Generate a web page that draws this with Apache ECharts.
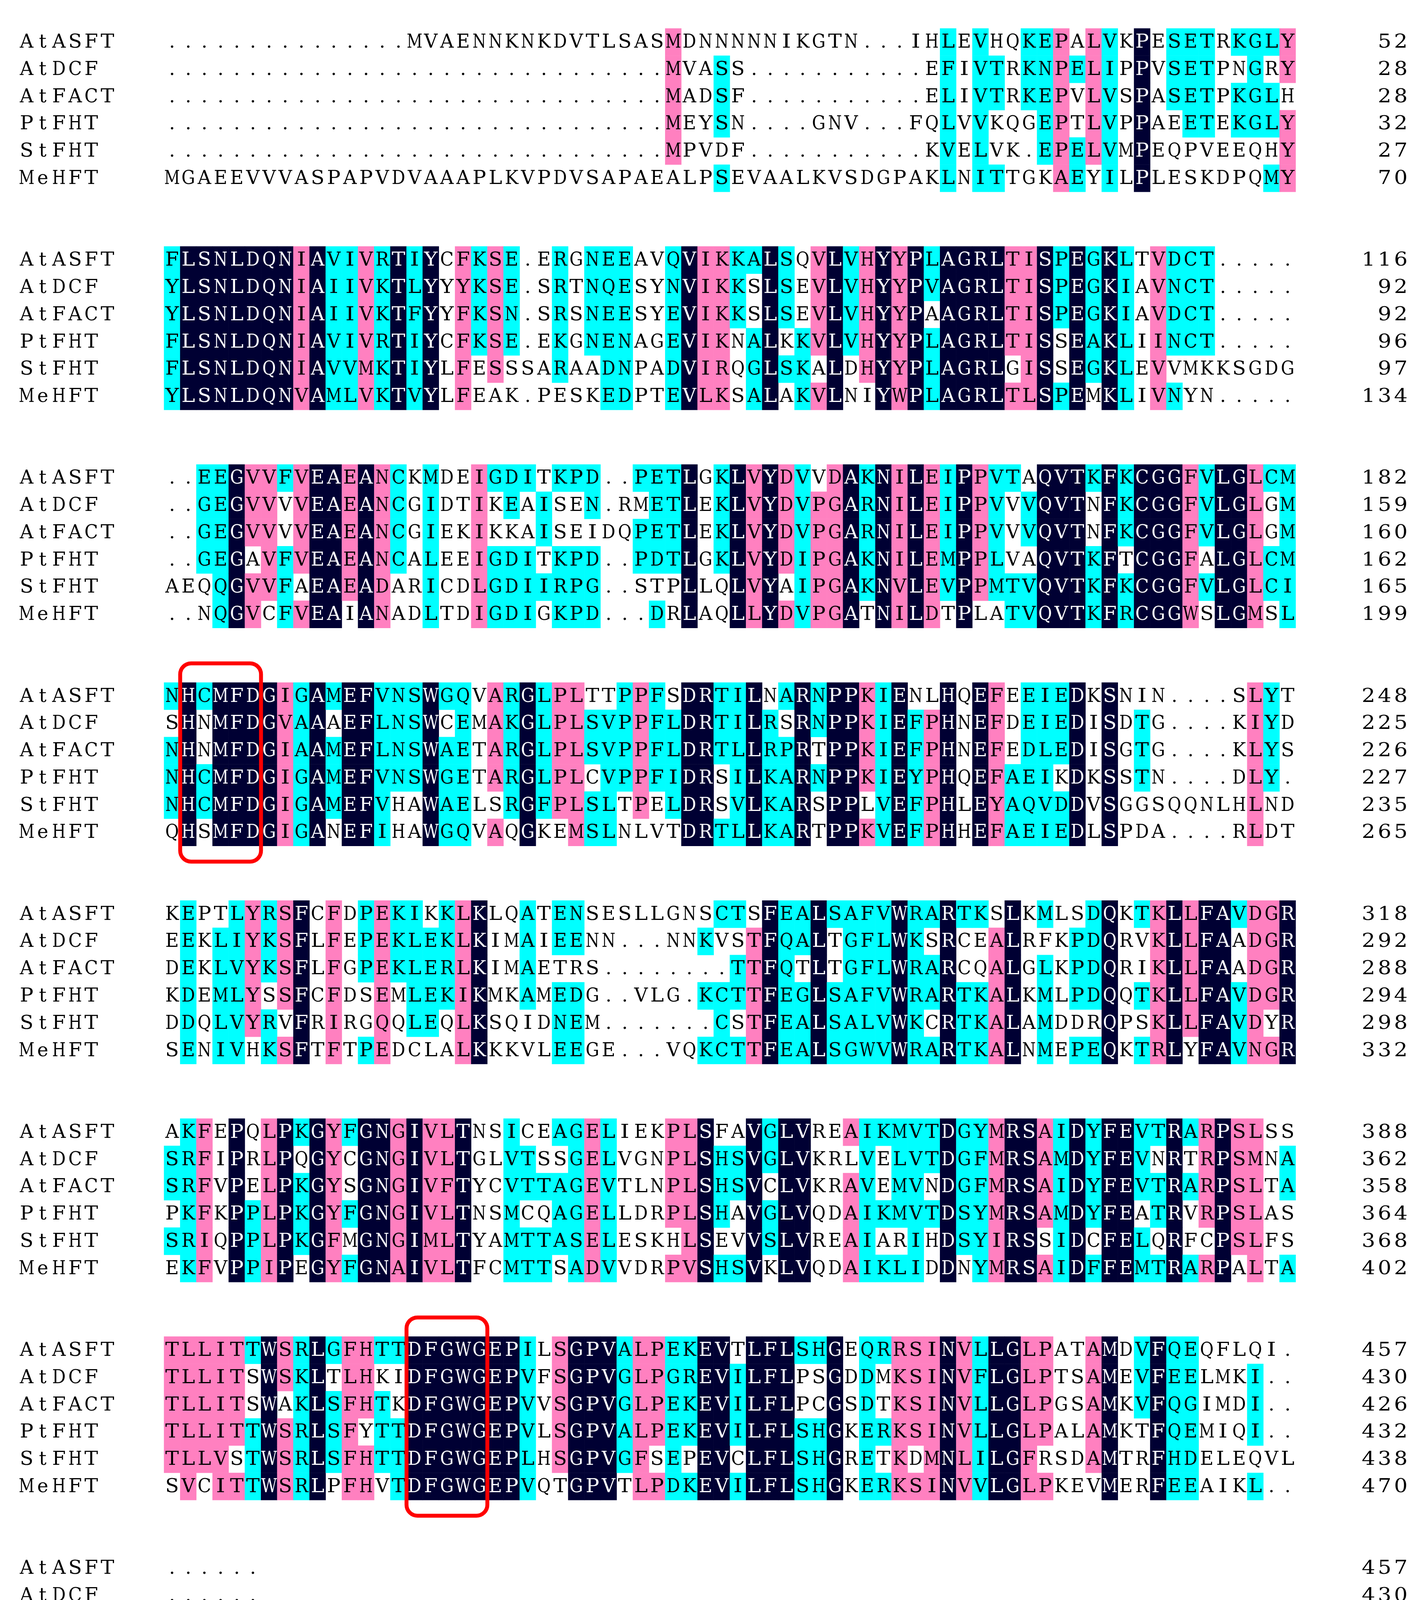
<!DOCTYPE html>
<html>
<head>
<meta charset="utf-8">
<title>Alignment</title>
<script src="https://cdn.jsdelivr.net/npm/echarts@6/dist/echarts.min.js"></script>
<style>
html, body { margin: 0; padding: 0; background: #fff; }
#main { width: 3644px; height: 4413px; }
</style>
</head>
<body>
<div id="main"></div>
<script>
// sequence names, top to bottom
const names = ["AtASFT", "AtDCF", "AtFACT", "PtFHT", "StFHT", "MeHFT"];

// one string per block of 70 columns, "." is a gap
const AtASFT = [
  ".".repeat(15) + "MVAENNKNKDVTLSASMDNNNNNIKGTN...IHLEVHQKEPALVKPESETRKGLY",
  "FLSNLDQNIAVIVRTIYCFKSE.ERGNEEAVQVIKKALSQVLVHYYPLAGRLTISPEGKLTVDCT.....",
  "..EEGVVFVEAEANCKMDEIGDITKPD..PETLGKLVYDVVDAKNILEIPPVTAQVTKFKCGGFVLGLCM",
  "NHCMFDGIGAMEFVNSWGQVARGLPLTTPPFSDRTILNARNPPKIENLHQEFEEIEDKSNIN....SLYT",
  "KEPTLYRSFCFDPEKIKKLKLQATENSESLLGNSCTSFEALSAFVWRARTKSLKMLSDQKTKLLFAVDGR",
  "AKFEPQLPKGYFGNGIVLTNSICEAGELIEKPLSFAVGLVREAIKMVTDGYMRSAIDYFEVTRARPSLSS",
  "TLLITTWSRLGFHTTDFGWGEPILSGPVALPEKEVTLFLSHGEQRRSINVLLGLPATAMDVFQEQFLQI.",
  "......"
];
const AtDCF = [
  ".".repeat(31) + "MVASS" + ".".repeat(11) + "EFIVTRKNPELIPPVSETPNGRY",
  "YLSNLDQNIAIIVKTLYYYKSE.SRTNQESYNVIKKSLSEVLVHYYPVAGRLTISPEGKIAVNCT.....",
  "..GEGVVVVEAEANCGIDTIKEAISEN.RMETLEKLVYDVPGARNILEIPPVVVQVTNFKCGGFVLGLGM",
  "SHNMFDGVAAAEFLNSWCEMAKGLPLSVPPFLDRTILRSRNPPKIEFPHNEFDEIEDISDTG....KIYD",
  "EEKLIYKSFLFEPEKLEKLKIMAIEENN...NNKVSTFQALTGFLWKSRCEALRFKPDQRVKLLFAADGR",
  "SRFIPRLPQGYCGNGIVLTGLVTSSGELVGNPLSHSVGLVKRLVELVTDGFMRSAMDYFEVNRTRPSMNA",
  "TLLITSWSKLTLHKIDFGWGEPVFSGPVGLPGREVILFLPSGDDMKSINVFLGLPTSAMEVFEELMKI..",
  "......"
];
const AtFACT = [
  ".".repeat(31) + "MADSF" + ".".repeat(11) + "ELIVTRKEPVLVSPASETPKGLH",
  "YLSNLDQNIAIIVKTFYYFKSN.SRSNEESYEVIKKSLSEVLVHYYPAAGRLTISPEGKIAVDCT.....",
  "..GEGVVVVEAEANCGIEKIKKAISEIDQPETLEKLVYDVPGARNILEIPPVVVQVTNFKCGGFVLGLGM",
  "NHNMFDGIAAMEFLNSWAETARGLPLSVPPFLDRTLLRPRTPPKIEFPHNEFEDLEDISGTG....KLYS",
  "DEKLVYKSFLFGPEKLERLKIMAETRS........TTFQTLTGFLWRARCQALGLKPDQRIKLLFAADGR",
  "SRFVPELPKGYSGNGIVFTYCVTTAGEVTLNPLSHSVCLVKRAVEMVNDGFMRSAIDYFEVTRARPSLTA",
  "TLLITSWAKLSFHTKDFGWGEPVVSGPVGLPEKEVILFLPCGSDTKSINVLLGLPGSAMKVFQGIMDI..",
  "......"
];
const PtFHT = [
  ".".repeat(31) + "MEYSN....GNV...FQLVVKQGEPTLVPPAEETEKGLY",
  "FLSNLDQNIAVIVRTIYCFKSE.EKGNENAGEVIKNALKKVLVHYYPLAGRLTISSEAKLIINCT.....",
  "..GEGAVFVEAEANCALEEIGDITKPD..PDTLGKLVYDIPGAKNILEMPPLVAQVTKFTCGGFALGLCM",
  "NHCMFDGIGAMEFVNSWGETARGLPLCVPPFIDRSILKARNPPKIEYPHQEFAEIKDKSSTN....DLY.",
  "KDEMLYSSFCFDSEMLEKIKMKAMEDG..VLG.KCTTFEGLSAFVWRARTKALKMLPDQQTKLLFAVDGR",
  "PKFKPPLPKGYFGNGIVLTNSMCQAGELLDRPLSHAVGLVQDAIKMVTDSYMRSAMDYFEATRVRPSLAS",
  "TLLITTWSRLSFYTTDFGWGEPVLSGPVALPEKEVILFLSHGKERKSINVLLGLPALAMKTFQEMIQI..",
  "......"
];
const StFHT = [
  ".".repeat(31) + "MPVDF" + ".".repeat(11) + "KVELVK.EPELVMPEQPVEEQHY",
  "FLSNLDQNIAVVMKTIYLFESSSARAADNPADVIRQGLSKALDHYYPLAGRLGISSEGKLEVVMKKSGDG",
  "AEQQGVVFAEAEADARICDLGDIIRPG..STPLLQLVYAIPGAKNVLEVPPMTVQVTKFKCGGFVLGLCI",
  "NHCMFDGIGAMEFVHAWAELSRGFPLSLTPELDRSVLKARSPPLVEFPHLEYAQVDDVSGGSQQNLHLND",
  "DDQLVYRVFRIRGQQLEQLKSQIDNEM.......CSTFEALSALVWKCRTKALAMDDRQPSKLLFAVDYR",
  "SRIQPPLPKGFMGNGIMLTYAMTTASELESKHLSEVVSLVREAIARIHDSYIRSSIDCFELQRFCPSLFS",
  "TLLVSTWSRLSFHTTDFGWGEPLHSGPVGFSEPEVCLFLSHGRETKDMNLILGFRSDAMTRFHDELEQVL",
  "GQVLCS"
];
const MeHFT = [
  "MGAEEVVVASPAPVDVAAAPLKVPDVSAPAEALPSEVAALKVSDGPAKLNITTGKAEYILPLESKDPQMY",
  "YLSNLDQNVAMLVKTVYLFEAK.PESKEDPTEVLKSALAKVLNIYWPLAGRLTLSPEMKLIVNYN.....",
  "..NQGVCFVEAIANADLTDIGDIGKPD...DRLAQLLYDVPGATNILDTPLATVQVTKFRCGGWSLGMSL",
  "QHSMFDGIGANEFIHAWGQVAQGKEMSLNLVTDRTLLKARTPPKVEFPHHEFAEIEDLSPDA....RLDT",
  "SENIVHKSFTFTPEDCLALKKKVLEEGE...VQKCTTFEALSGWVWRARTKALNMEPEQKTRLYFAVNGR",
  "EKFVPPIPEGYFGNAIVLTFCMTTSADVVDRPVSHSVKLVQDAIKLIDDNYMRSAIDFFEMTRARPALTA",
  "SVCITTWSRLPFHVTDFGWGEPVQTGPVTLPDKEVILFLSHGKERKSINVVLGLPKEVMERFEEAIKL..",
  "......"
];

// residue number printed at the end of each block line
const endAtASFT = [52, 116, 182, 248, 318, 388, 457, 457];
const endAtDCF  = [28, 92, 159, 225, 292, 362, 430, 430];
const endAtFACT = [28, 92, 160, 226, 288, 358, 426, 426];
const endPtFHT  = [32, 96, 162, 227, 294, 364, 432, 432];
const endStFHT  = [27, 97, 165, 235, 298, 368, 438, 444];
const endMeHFT  = [70, 134, 199, 265, 332, 402, 470, 470];

// boxed motifs: block index, first and last column (1-based)
const motifs = [[3, 2, 6], [6, 16, 20]];

// residue pairs shaded together with the column consensus
const simPairs = ["IL", "IV", "IM", "LV", "LM", "MV", "FL", "FI", "FY", "FW", "YW",
  "KR", "DE", "DN", "EN", "EQ", "QH", "AG", "AP", "DG", "EG", "GS"];

const seqs = [AtASFT, AtDCF, AtFACT, PtFHT, StFHT, MeHFT];
const ends = [endAtASFT, endAtDCF, endAtFACT, endPtFHT, endStFHT, endMeHFT];

// layout of the character grid (pixels)
const W = 3644, H = 4413;
const colW = 41.4, seqLeft = 420;
const rowH = 69.77, firstTop = 72.7;
const rowsPerBlock = 8;
const FONT_SIZE = 48;
const FONT = '"DejaVu Serif", serif';
const fills = [null, "#00ffff", "#ff80c0", "#000033"];

const sim = new Set();
simPairs.forEach(p => { sim.add(p); sim.add(p[1] + p[0]); });

// build cells: [column, row, shade level]
const cells = [], cellChars = [];
seqs[0].forEach((_, b) => {
  const len = Math.max(...seqs.map(s => s[b].length));
  for (let c = 0; c < len; c++) {
    const col = seqs.map(s => s[b][c] || " ");
    const counts = {};
    col.forEach(ch => { if (/[A-Z]/.test(ch)) counts[ch] = (counts[ch] || 0) + 1; });
    let cons = null, n = 0;
    Object.keys(counts).sort().forEach(k => { if (counts[k] > n) { n = counts[k]; cons = k; } });
    const lvl = n === 6 ? 3 : n === 5 ? 2 : n >= 3 ? 1 : 0;
    col.forEach((ch, s) => {
      if (ch === " ") return;
      const hit = lvl > 0 && (ch === cons || sim.has(cons + ch));
      cells.push([c, b * rowsPerBlock + s, hit ? lvl : 0]);
      cellChars.push(ch);
    });
  }
});

// names on the left and end numbers on the right, one char per grid cell
const labels = [], labelChars = [];
seqs[0].forEach((_, b) => {
  names.forEach((nm, s) => {
    const row = b * rowsPerBlock + s;
    nm.split("").forEach((ch, i) => { labels.push([-9 + i, row]); labelChars.push(ch); });
    const num = String(ends[s][b]);
    num.split("").forEach((ch, i) => { labels.push([77 - num.length + i, row]); labelChars.push(ch); });
  });
});

const boxes = motifs.map(m => [m[1] - 1, m[2], m[0] * rowsPerBlock, m[0] * rowsPerBlock + 6]);

// the original face is monospaced; widen narrow glyphs a little so each fills its cell
const measure = document.createElement("canvas").getContext("2d");
measure.font = FONT_SIZE + "px " + FONT;
const stretchCache = {};
function stretch(ch) {
  if (!(ch in stretchCache)) {
    const w = measure.measureText(ch).width || colW;
    stretchCache[ch] = /[A-Z0-9]/.test(ch) ? Math.max(0.82, Math.min(1.25, 0.84 * colW / w)) : 1;
  }
  return stretchCache[ch];
}

function textEl(p, s, ch, color) {
  return {
    type: "text",
    x: p[0] + s[0] / 2,
    y: p[1] + s[1] / 2 + 2,
    scaleX: stretch(ch),
    style: {
      text: ch, fill: color, fontSize: FONT_SIZE, fontFamily: FONT,
      align: "center", verticalAlign: "middle",
      textAlign: "center", textVerticalAlign: "middle"
    }
  };
}

const chart = echarts.init(document.getElementById("main"), null, { renderer: "canvas" });
chart.setOption({
  backgroundColor: "#ffffff",
  animation: false,
  grid: { left: 0, top: 0, width: W, height: H },
  xAxis: { type: "value", min: -seqLeft / colW, max: (W - seqLeft) / colW, show: false },
  yAxis: { type: "value", inverse: true, min: -firstTop / rowH, max: (H - firstTop) / rowH, show: false },
  series: [
    {
      // shading behind residues
      type: "custom", z: 1, silent: true, clip: false,
      data: cells,
      renderItem: function (params, api) {
        const lvl = api.value(2);
        if (!lvl) return null;
        const p = api.coord([api.value(0), api.value(1)]);
        const s = api.size([1, 1]);
        return {
          type: "rect",
          shape: { x: p[0] - 0.3, y: p[1] - 0.3, width: s[0] + 0.6, height: s[1] + 0.6 },
          style: { fill: fills[lvl] }
        };
      }
    },
    {
      // residue letters
      type: "custom", z: 2, silent: true, clip: false,
      data: cells,
      renderItem: function (params, api) {
        const p = api.coord([api.value(0), api.value(1)]);
        const s = api.size([1, 1]);
        const lvl = api.value(2);
        return textEl(p, s, cellChars[params.dataIndex], lvl === 3 ? "#ffffff" : "#000000");
      }
    },
    {
      // sequence names and residue numbers
      type: "custom", z: 2, silent: true, clip: false,
      data: labels,
      renderItem: function (params, api) {
        const p = api.coord([api.value(0), api.value(1)]);
        const s = api.size([1, 1]);
        return textEl(p, s, labelChars[params.dataIndex], "#000000");
      }
    },
    {
      // red motif boxes
      type: "custom", z: 3, silent: true, clip: false,
      data: boxes,
      renderItem: function (params, api) {
        const a = api.coord([api.value(0), api.value(2)]);
        const b = api.coord([api.value(1), api.value(3)]);
        return {
          type: "rect",
          shape: { x: a[0], y: a[1] - 49, width: b[0] - a[0], height: b[1] - a[1] + 89, r: 28 },
          style: { fill: "none", stroke: "#ff0000", lineWidth: 10 }
        };
      }
    }
  ]
});
</script>
</body>
</html>
